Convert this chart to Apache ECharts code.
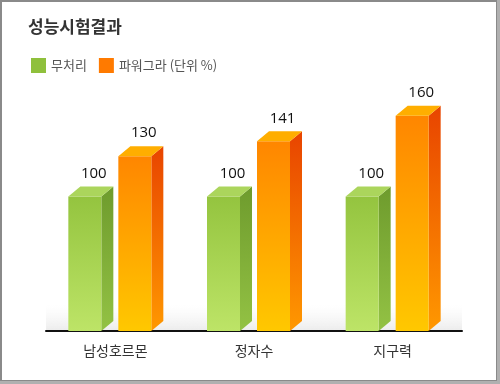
<!DOCTYPE html>
<html>
<head>
<meta charset="utf-8">
<script src="https://cdn.jsdelivr.net/npm/echarts@6/dist/echarts.min.js"></script>
<style>
html,body{margin:0;padding:0;background:#fff;}
#c{width:500px;height:384px;}
</style>
</head>
<body>
<div id="c"></div>
<script>
var titleText = '성능시험결과';
var categories = ['남성호르몬', '정자수', '지구력'];
var seriesNames = ['무처리', '파워그라 (단위 %)'];
var untreated = [100, 100, 100];
var powergra = [130, 141, 160];

var chart = echarts.init(document.getElementById('c'));

var FONT = '"Noto Sans CJK KR", "Noto Sans", sans-serif';
var W = 33, DX = 12, DY = 10;

function makeRender(offset, pal) {
  return function (params, api) {
    var idx = api.value(0), val = api.value(1);
    var base = api.coord([idx, 0]);
    var top = api.coord([idx, val]);
    var x0 = base[0] + offset;
    var yb = base[1], yt = top[1];
    return {
      type: 'group',
      children: [
        { type: 'polygon', shape: { points: [[x0 + W, yt], [x0 + W + DX, yt - DY], [x0 + W + DX, yb - DY], [x0 + W, yb]] },
          style: { fill: new echarts.graphic.LinearGradient(0, 0, 0, 1, [{ offset: 0, color: pal.side0 }, { offset: 1, color: pal.side1 }]) } },
        { type: 'rect', shape: { x: x0, y: yt, width: W, height: yb - yt },
          style: { fill: new echarts.graphic.LinearGradient(0, 0, 0, 1, [{ offset: 0, color: pal.front0 }, { offset: 1, color: pal.front1 }]) } },
        { type: 'polygon', shape: { points: [[x0, yt], [x0 + DX, yt - DY], [x0 + W + DX, yt - DY], [x0 + W, yt]] },
          style: { fill: pal.top } },
        { type: 'text', style: { text: String(val), x: x0 + W / 2 + 9, y: yt - DY - 13, align: 'center', verticalAlign: 'middle',
          fill: '#111', font: 'normal 400 15px "Open Sans", sans-serif' } }
      ]
    };
  };
}

var greenPal = { front0: '#94c43f', front1: '#bde467', side0: '#6e9b2d', side1: '#93c244', top: '#abd55c' };
var orangePal = { front0: '#ff8600', front1: '#ffc800', side0: '#e84400', side1: '#ff9800', top: '#ffae00' };

chart.setOption({
  animation: false,
  title: { text: titleText, left: 23, top: 13, textStyle: { fontFamily: FONT, fontSize: 17, fontWeight: 'bold', color: '#333' } },
  legend: {
    left: 26, top: 53, itemWidth: 15, itemHeight: 15, itemGap: 12, icon: 'rect',
    textStyle: { fontFamily: FONT, fontSize: 13, color: '#555' },
    data: seriesNames
  },
  grid: { left: 46, right: 38, top: 62, bottom: 53 },
  xAxis: {
    type: 'category', data: categories,
    axisLine: { lineStyle: { color: '#111', width: 2 } },
    axisTick: { show: false },
    axisLabel: { fontFamily: FONT, fontSize: 14, color: '#333', margin: 13 }
  },
  yAxis: { type: 'value', min: 0, max: 200, show: false, splitLine: { show: false } },
  graphic: [
    { type: 'rect', silent: true, z: -1, shape: { x: 46, y: 305, width: 416, height: 26 },
      style: { fill: new echarts.graphic.LinearGradient(0, 0, 0, 1, [{ offset: 0, color: 'rgba(235,235,235,0)' }, { offset: 1, color: 'rgba(220,220,220,0.55)' }]) } },
    { type: 'rect', silent: true, shape: { x: 1, y: 1, width: 496, height: 380 }, style: { fill: 'none', stroke: '#8a8a8a', lineWidth: 2 } },
    { type: 'line', silent: true, shape: { x1: 498.5, y1: 0, x2: 498.5, y2: 384 }, style: { stroke: '#b0b0b0', lineWidth: 3 } },
    { type: 'line', silent: true, shape: { x1: 0, y1: 382.5, x2: 500, y2: 382.5 }, style: { stroke: '#b0b0b0', lineWidth: 3 } }
  ],
  series: [
    { name: seriesNames[0], type: 'custom', itemStyle: { color: '#8fc03c' },
      renderItem: makeRender(-47, greenPal),
      data: untreated.map(function (v, i) { return [i, v]; }) },
    { name: seriesNames[1], type: 'custom', itemStyle: { color: '#ff7a00' },
      renderItem: makeRender(3, orangePal),
      data: powergra.map(function (v, i) { return [i, v]; }) }
  ]
});
</script>
</body>
</html>
